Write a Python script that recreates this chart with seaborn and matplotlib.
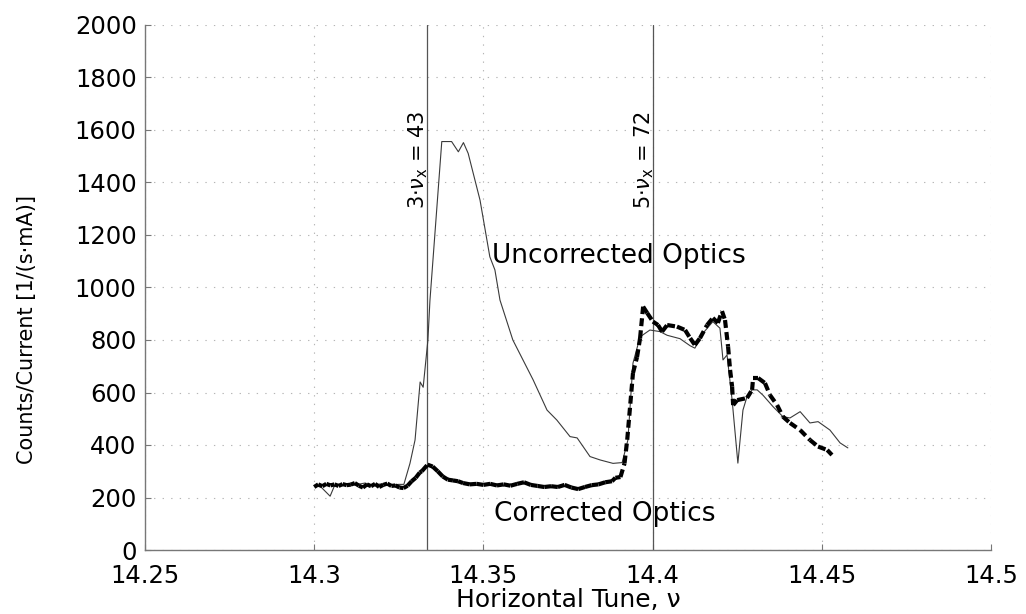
import numpy as np
import pandas as pd
import matplotlib
matplotlib.use("Agg")
import matplotlib.pyplot as plt
import seaborn as sns

# ---------------- data ----------------
tune_unc = [14.3000, 14.3020, 14.3047, 14.3060, 14.3090, 14.3120, 14.3150, 14.3170,
            14.3200, 14.3220, 14.3250, 14.3265, 14.3283, 14.3298, 14.3313, 14.3322,
            14.3336, 14.3342, 14.3377, 14.3406, 14.3426, 14.3441, 14.3455, 14.3490,
            14.3519, 14.3534, 14.3549, 14.3587, 14.3647, 14.3688, 14.3717, 14.3756,
            14.3777, 14.3815, 14.3845, 14.3883, 14.3910, 14.3927, 14.3942, 14.3963,
            14.3992, 14.4022, 14.4043, 14.4081, 14.4111, 14.4125, 14.4149, 14.4178,
            14.4199, 14.4208, 14.4220, 14.4235, 14.4252, 14.4267, 14.4279, 14.4294,
            14.4309, 14.4326, 14.4356, 14.4385, 14.4406, 14.4436, 14.4465, 14.4489,
            14.4524, 14.4554, 14.4577]
counts_unc = [245, 240, 205, 245, 250, 248, 255, 248,
              252, 247, 250, 250, 330, 419, 640, 620,
              800, 950, 1556, 1556, 1517, 1552, 1511, 1333,
              1117, 1067, 952, 800, 648, 533, 495, 432,
              427, 356, 343, 330, 333, 419, 712, 812,
              838, 832, 818, 805, 778, 769, 826, 870,
              845, 724, 743, 571, 331, 533, 584, 610,
              610, 590, 546, 508, 503, 527, 484, 489,
              457, 408, 389]

tune_cor = [14.3000, 14.3012, 14.3024, 14.3036, 14.3048, 14.3060, 14.3072, 14.3084,
            14.3096, 14.3108, 14.3120, 14.3132, 14.3144, 14.3156, 14.3168, 14.3180,
            14.3192, 14.3204, 14.3216, 14.3228, 14.3240, 14.3252, 14.3264, 14.3276,
            14.3288, 14.3300, 14.3312, 14.3318, 14.3335, 14.3350, 14.3365, 14.3380,
            14.3395, 14.3410, 14.3425, 14.3440, 14.3460, 14.3480, 14.3500, 14.3520,
            14.3540, 14.3560, 14.3580, 14.3600, 14.3620, 14.3640, 14.3660, 14.3680,
            14.3700, 14.3720, 14.3740, 14.3760, 14.3780, 14.3800, 14.3820, 14.3840,
            14.3860, 14.3880, 14.3890, 14.3905, 14.3917, 14.3925, 14.3942, 14.3954,
            14.3963, 14.3972, 14.3984, 14.4001, 14.4016, 14.4028, 14.4043, 14.4072,
            14.4096, 14.4111, 14.4125, 14.4140, 14.4161, 14.4178, 14.4193, 14.4205,
            14.4214, 14.4223, 14.4229, 14.4235, 14.4238, 14.4250, 14.4279, 14.4294,
            14.4297, 14.4312, 14.4332, 14.4347, 14.4368, 14.4385, 14.4406, 14.4436,
            14.4465, 14.4489, 14.4516, 14.4530]
counts_cor = [240, 250, 243, 252, 246, 250, 244, 251,
              247, 249, 255, 245, 238, 250, 243, 252,
              240, 248, 253, 244, 246, 238, 236, 245,
              262, 275, 295, 300, 325, 318, 300, 280,
              268, 265, 262, 255, 250, 252, 248, 252,
              246, 250, 245, 252, 258, 248, 244, 240,
              243, 240, 248, 238, 232, 240, 247, 250,
              258, 262, 275, 278, 330, 420, 674, 735,
              807, 927, 903, 870, 857, 832, 857, 851,
              838, 807, 781, 807, 857, 884, 865, 910,
              876, 775, 686, 622, 552, 571, 579, 610,
              655, 655, 636, 590, 552, 508, 484, 457,
              419, 394, 381, 362]

resonances = [43 / 3, 72 / 5]
resonance_labels = [r"3$\cdot\nu_\mathrm{x}$ = 43", r"5$\cdot\nu_\mathrm{x}$ = 72"]
x_ticks = [14.25, 14.30, 14.35, 14.40, 14.45, 14.50]
x_tick_labels = ["14.25", "14.3", "14.35", "14.4", "14.45", "14.5"]
y_ticks = list(range(0, 2001, 200))

# ---------------- style ----------------
sns.set_theme(style="white")
plt.rcParams["font.family"] = ["DejaVu Sans"]
plt.rcParams["mathtext.fontset"] = "dejavusans"
plt.rcParams["text.color"] = "black"
plt.rcParams["axes.labelcolor"] = "black"

fig = plt.figure(figsize=(10.26, 6.14), dpi=100)
ax = fig.add_axes([145 / 1026, 1 - 550 / 614, (991 - 145) / 1026, (550 - 25) / 614])

# uncorrected optics: thin line
df_unc = pd.DataFrame({"tune": tune_unc, "counts": counts_unc})
sns.lineplot(data=df_unc, x="tune", y="counts", ax=ax, color="#3a3a3a",
             linewidth=0.8, estimator=None, sort=False, zorder=3)

# corrected optics: thick dashed line, dash pattern restarting on every segment
rows = []
for i in range(len(tune_cor) - 1):
    rows.append((i, tune_cor[i], counts_cor[i]))
    rows.append((i, tune_cor[i + 1], counts_cor[i + 1]))
df_cor = pd.DataFrame(rows, columns=["seg", "tune", "counts"])
sns.lineplot(data=df_cor, x="tune", y="counts", units="seg", estimator=None, ax=ax,
             color="black", linewidth=3.0, linestyle=(0, (1.9, 1.0)),
             sort=False, zorder=4)

# resonance lines
for xr, lab in zip(resonances, resonance_labels):
    ax.axvline(xr, color="#555555", linewidth=0.9, zorder=2)
    ax.text(xr + 0.0009, 1300, lab, rotation=90, ha="right", va="bottom",
            fontsize=15, color="black")

ax.text(14.3525, 1120, "Uncorrected Optics", ha="left", va="center", fontsize=19,
        color="black")
ax.text(14.3531, 138, "Corrected Optics", ha="left", va="center", fontsize=19,
        color="black")

ax.set_xlim(14.25, 14.5)
ax.set_ylim(0, 2000)
ax.set_xticks(x_ticks)
ax.set_xticklabels(x_tick_labels)
ax.set_yticks(y_ticks)

ax.grid(True, color="#b5b5b5", linestyle=(0, (1.2, 6.5)), linewidth=0.8)
for s in ["top", "right"]:
    ax.spines[s].set_visible(False)
for s in ["left", "bottom"]:
    ax.spines[s].set_color("#777777")
    ax.spines[s].set_linewidth(1.0)

ax.tick_params(direction="in", length=4, width=0.8, color="#777777",
               labelsize=17.5, labelcolor="black")
ax.tick_params(axis="x", pad=10)
ax.tick_params(axis="y", pad=6)
ax.tick_params(left=True, bottom=True)

ax.set_xlabel("Horizontal Tune, ν", fontsize=18, color="black")
ax.set_ylabel("Counts/Current [1/(s·mA)]", fontsize=15, color="black")
ax.xaxis.set_label_coords(0.5, -0.073)
ax.yaxis.set_label_coords(-0.128, 0.42)

fig.savefig("out.png", dpi=100)
